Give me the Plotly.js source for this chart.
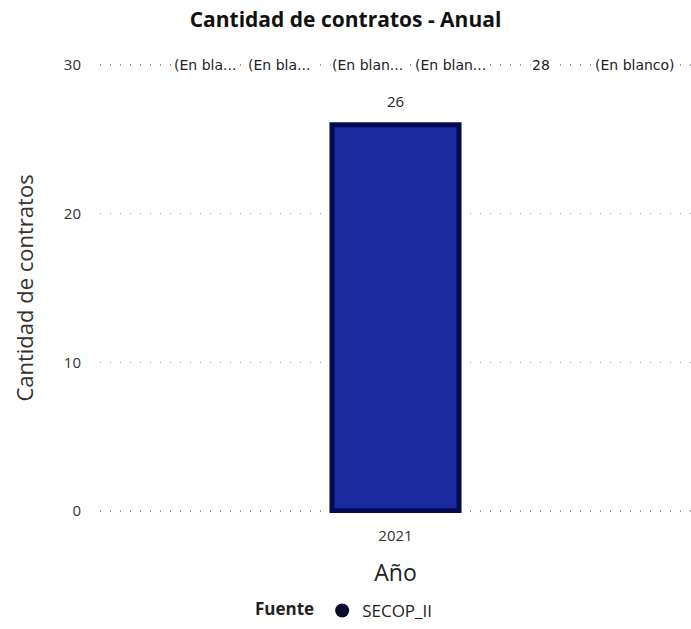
<!DOCTYPE html>
<html><head><meta charset="utf-8">
<script src="https://cdn.plot.ly/plotly-3.0.1.min.js"></script>
<style>html,body{margin:0;padding:0;background:#fff;}#chart{width:691px;height:629px;}</style>
</head><body><div id="chart"></div>
<script>
const years = ["2021"];
const contratos = [26];
const seriesName = "SECOP_II";
const topLabels = ["(En bla...", "(En bla...", "(En blan...", "(En blan...", "28", "(En blanco)"];
const topLabelPos = [0.122, 0.247, 0.389, 0.529, 0.727, 0.834];

const bar = {
  type: "bar",
  x: years,
  y: contratos,
  name: seriesName,
  width: 0.215,
  marker: {color: "#1b2a9e", line: {color: "#050a50", width: 5}},
  showlegend: false,
  hoverinfo: "skip"
};
const legendTrace = {
  type: "scatter", mode: "markers", x: years, y: [null], name: seriesName,
  marker: {symbol: "circle", size: 14, color: "#0a0c30"}, showlegend: true
};

const annotations = topLabels.map((t, i) => ({
  xref: "paper", yref: "y", x: topLabelPos[i], y: 30, xanchor: "left", yanchor: "middle",
  text: t, showarrow: false, bgcolor: "#fff", borderpad: 1,
  font: {family: "DejaVu Sans, sans-serif", size: 14, color: "#222"}
}));
annotations.push(...contratos.map((v, i) => ({
  xref: "x", yref: "y", x: i, y: v, yanchor: "bottom", yshift: 12,
  text: String(v), showarrow: false,
  font: {family: "Open Sans, Noto Sans, sans-serif", size: 15, color: "#222"}
})));

const layout = {
  width: 691, height: 629,
  margin: {l: 100, r: 0, t: 63, b: 116},
  paper_bgcolor: "#fff", plot_bgcolor: "#fff",
  title: {text: "<b>Cantidad de contratos - Anual</b>", x: 0.5, xanchor: "center", y: 0.968, yanchor: "middle",
    font: {family: "Open Sans, Noto Sans, sans-serif", size: 21, color: "#111"}},
  font: {family: "Open Sans, Noto Sans, sans-serif", color: "#444"},
  xaxis: {type: "category", range: [-0.5, 0.5], showgrid: false, zeroline: false, showline: false, ticks: "",
    tickfont: {size: 15, color: "#333"}, ticklabelstandoff: 12,
    title: {text: "Año", font: {size: 23, color: "#222"}, standoff: 20}},
  yaxis: {range: [-0.15, 30.15], tickvals: [0, 10, 20, 30], showgrid: true, gridcolor: "#9a9a9a",
    griddash: "1px,9px", gridwidth: 1.5,
    zeroline: false, showline: false, ticks: "",
    tickfont: {size: 15, color: "#333"}, ticklabelstandoff: 18,
    title: {text: "Cantidad de contratos", font: {size: 22, color: "#333"}, standoff: 24}},
  showlegend: true,
  legend: {orientation: "h", x: 0.5, xref: "container", xanchor: "center", y: -0.005, yref: "container", yanchor: "bottom",
    title: {text: "<b>Fuente</b>", font: {size: 17, color: "#222"}},
    font: {size: 17, color: "#222"}, itemwidth: 30},
  annotations: annotations
};

Plotly.newPlot("chart", [bar, legendTrace], layout, {displayModeBar: false, staticPlot: true});
</script>
</body></html>
